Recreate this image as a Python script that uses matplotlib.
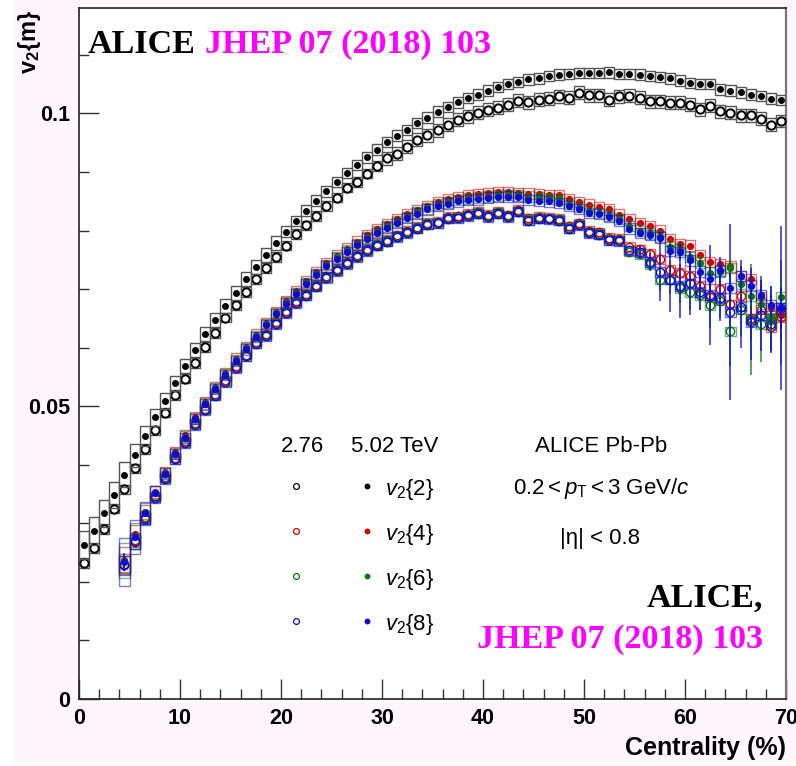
import matplotlib
matplotlib.use('Agg')
import matplotlib.pyplot as plt
import numpy as np
from matplotlib.ticker import MultipleLocator, FixedLocator, FuncFormatter
from matplotlib.patches import Rectangle

plt.rcParams['font.family'] = ['Liberation Sans', 'DejaVu Sans']
plt.rcParams['mathtext.fontset'] = 'custom'
plt.rcParams['mathtext.rm'] = 'Liberation Sans'
plt.rcParams['mathtext.it'] = 'Liberation Sans:italic'
plt.rcParams['mathtext.bf'] = 'Liberation Sans:bold'

# centrality bin centres (1% bins)
cent = np.arange(0.5, 70.0, 1.0)      # v2{2}
cent_m = np.arange(4.5, 70.0, 1.0)    # v2{4}, v2{6}, v2{8}

# v2{2}, 5.02 TeV (filled) and 2.76 TeV (open)
v22_502 = [0.0263, 0.0287, 0.0317, 0.0349, 0.0383, 0.0416, 0.0449, 0.0481, 0.0509, 0.0539,
           0.0568, 0.0596, 0.0623, 0.0648, 0.0671, 0.0694, 0.0717, 0.0738, 0.0759, 0.0779,
           0.0798, 0.0816, 0.0834, 0.0851, 0.0867, 0.0883, 0.0898, 0.0912, 0.0925, 0.0938,
           0.0951, 0.0962, 0.0972, 0.0984, 0.0993, 0.1003, 0.1011, 0.1019, 0.1026, 0.1032,
           0.1039, 0.1045, 0.1050, 0.1054, 0.1058, 0.1060, 0.1064, 0.1066, 0.1067, 0.1069,
           0.1069, 0.1069, 0.1070, 0.1067, 0.1067, 0.1066, 0.1064, 0.1062, 0.1060, 0.1056,
           0.1052, 0.1050, 0.1050, 0.1041, 0.1039, 0.1036, 0.1032, 0.1030, 0.1025, 0.1023]
v22_276 = [0.0232, 0.0258, 0.0290, 0.0325, 0.0358, 0.0394, 0.0427, 0.0459, 0.0489, 0.0519,
           0.0547, 0.0574, 0.0601, 0.0625, 0.0651, 0.0672, 0.0695, 0.0717, 0.0736, 0.0755,
           0.0774, 0.0794, 0.0809, 0.0825, 0.0842, 0.0856, 0.0873, 0.0883, 0.0897, 0.0910,
           0.0923, 0.0931, 0.0943, 0.0955, 0.0963, 0.0971, 0.0981, 0.0989, 0.0995, 0.1001,
           0.1006, 0.1010, 0.1015, 0.1022, 0.1019, 0.1023, 0.1025, 0.1029, 0.1027, 0.1035,
           0.1031, 0.1031, 0.1023, 0.1029, 0.1030, 0.1027, 0.1021, 0.1021, 0.1018, 0.1018,
           0.1015, 0.1007, 0.1013, 0.1004, 0.1001, 0.0997, 0.0997, 0.0991, 0.0981, 0.0987]
sys_v22_502 = [0.0024, 0.0024, 0.0023, 0.0022, 0.0021, 0.0019, 0.0017, 0.0015, 0.0014, 0.0013] \
    + [0.0012] * 10 + [0.0009] * 50
sys_v22_276 = [0.0008] * 30 + [0.0011] * 40

# multi-particle cumulants, 5.02 TeV
v24_502 = [0.0238, 0.0281, 0.0320, 0.0354, 0.0388, 0.0421, 0.0450, 0.0481, 0.0507, 0.0533,
           0.0557, 0.0581, 0.0601, 0.0622, 0.0642, 0.0661, 0.0679, 0.0696, 0.0713, 0.0729,
           0.0744, 0.0757, 0.0769, 0.0781, 0.0792, 0.0802, 0.0811, 0.0820, 0.0828, 0.0835,
           0.0842, 0.0848, 0.0853, 0.0857, 0.0860, 0.0862, 0.0864, 0.0866, 0.0866, 0.0864,
           0.0863, 0.0862, 0.0861, 0.0860, 0.0854, 0.0849, 0.0844, 0.0840, 0.0836, 0.0827,
           0.0819, 0.0813, 0.0807, 0.0800, 0.0785, 0.0777, 0.0774, 0.0758, 0.0746, 0.0742,
           0.0739, 0.0722, 0.0717, 0.0686, 0.0667, 0.0656]
v26_502 = [0.0236, 0.0279, 0.0319, 0.0352, 0.0386, 0.0419, 0.0448, 0.0479, 0.0505, 0.0531,
           0.0555, 0.0579, 0.0599, 0.0620, 0.0640, 0.0659, 0.0677, 0.0693, 0.0710, 0.0726,
           0.0741, 0.0754, 0.0766, 0.0777, 0.0788, 0.0798, 0.0807, 0.0815, 0.0823, 0.0831,
           0.0838, 0.0844, 0.0848, 0.0852, 0.0855, 0.0856, 0.0858, 0.0860, 0.0861, 0.0860,
           0.0858, 0.0857, 0.0855, 0.0853, 0.0846, 0.0841, 0.0834, 0.0830, 0.0826, 0.0820,
           0.0808, 0.0800, 0.0795, 0.0790, 0.0772, 0.0768, 0.0755, 0.0745, 0.0728, 0.0730,
           0.0736, 0.0709, 0.0689, 0.0675, 0.0650, 0.0686]
v28_502 = [0.0234, 0.0277, 0.0317, 0.0351, 0.0385, 0.0418, 0.0446, 0.0478, 0.0503, 0.0529,
           0.0553, 0.0577, 0.0597, 0.0618, 0.0638, 0.0657, 0.0675, 0.0691, 0.0708, 0.0724,
           0.0739, 0.0752, 0.0763, 0.0775, 0.0786, 0.0796, 0.0805, 0.0813, 0.0821, 0.0829,
           0.0836, 0.0842, 0.0846, 0.0850, 0.0852, 0.0853, 0.0856, 0.0857, 0.0858, 0.0857,
           0.0852, 0.0851, 0.0850, 0.0847, 0.0842, 0.0837, 0.0830, 0.0828, 0.0823, 0.0817,
           0.0803, 0.0796, 0.0792, 0.0788, 0.0765, 0.0763, 0.0749, 0.0730, 0.0717, 0.0732,
           0.0702, 0.0722, 0.0706, 0.0690, 0.0672, 0.0667]

# multi-particle cumulants, 2.76 TeV
v24_276 = [0.0231, 0.0271, 0.0311, 0.0346, 0.0379, 0.0412, 0.0440, 0.0471, 0.0496, 0.0521,
           0.0544, 0.0568, 0.0588, 0.0610, 0.0623, 0.0643, 0.0662, 0.0679, 0.0692, 0.0707,
           0.0722, 0.0734, 0.0746, 0.0758, 0.0768, 0.0777, 0.0784, 0.0792, 0.0799, 0.0806,
           0.0813, 0.0815, 0.0823, 0.0824, 0.0828, 0.0832, 0.0827, 0.0832, 0.0826, 0.0835,
           0.0821, 0.0823, 0.0822, 0.0820, 0.0807, 0.0812, 0.0799, 0.0797, 0.0787, 0.0786,
           0.0772, 0.0768, 0.0760, 0.0751, 0.0733, 0.0728, 0.0723, 0.0705, 0.0686, 0.0700,
           0.0674, 0.0688, 0.0650, 0.0665, 0.0635, 0.0652]
v26_276 = [0.0229, 0.0269, 0.0309, 0.0344, 0.0377, 0.0410, 0.0438, 0.0469, 0.0494, 0.0519,
           0.0542, 0.0566, 0.0586, 0.0608, 0.0621, 0.0641, 0.0660, 0.0677, 0.0690, 0.0705,
           0.0720, 0.0732, 0.0744, 0.0756, 0.0766, 0.0775, 0.0782, 0.0790, 0.0797, 0.0804,
           0.0811, 0.0813, 0.0821, 0.0822, 0.0826, 0.0830, 0.0824, 0.0830, 0.0824, 0.0833,
           0.0818, 0.0821, 0.0820, 0.0818, 0.0804, 0.0810, 0.0797, 0.0794, 0.0784, 0.0783,
           0.0764, 0.0760, 0.0742, 0.0716, 0.0716, 0.0702, 0.0695, 0.0690, 0.0673, 0.0680,
           0.0628, 0.0665, 0.0648, 0.0640, 0.0650, 0.0660]
v28_276 = [0.0228, 0.0268, 0.0308, 0.0343, 0.0376, 0.0409, 0.0437, 0.0468, 0.0493, 0.0518,
           0.0541, 0.0565, 0.0585, 0.0607, 0.0620, 0.0640, 0.0659, 0.0676, 0.0689, 0.0704,
           0.0719, 0.0731, 0.0743, 0.0755, 0.0765, 0.0774, 0.0781, 0.0789, 0.0796, 0.0803,
           0.0810, 0.0812, 0.0820, 0.0821, 0.0825, 0.0829, 0.0823, 0.0829, 0.0823, 0.0832,
           0.0817, 0.0820, 0.0819, 0.0817, 0.0803, 0.0809, 0.0796, 0.0793, 0.0783, 0.0782,
           0.0766, 0.0763, 0.0746, 0.0729, 0.0716, 0.0705, 0.0710, 0.0695, 0.0690, 0.0685,
           0.0661, 0.0670, 0.0644, 0.0655, 0.0640, 0.0668]

# statistical errors
stat_v24_502 = [0.0] * 51 + [0.0003, 0.0003, 0.0004, 0.0004, 0.0005, 0.0005, 0.0006, 0.0006,
                             0.0007, 0.0007, 0.0008, 0.0008, 0.0009, 0.0009, 0.0010]
stat_v26_502 = [0.0012] + [0.0] * 50 + [0.0004, 0.0005, 0.0006, 0.0008, 0.0009, 0.0010, 0.0012,
                                        0.0013, 0.0015, 0.0016, 0.0018, 0.0020, 0.0022, 0.0024, 0.0026]
stat_v28_502 = [0.0016, 0.0008] + [0.0] * 49 + [0.0006, 0.0008, 0.0010, 0.0012, 0.0014, 0.0016, 0.0018,
                                                0.0020, 0.0022, 0.0025, 0.0027, 0.0030, 0.0032, 0.0034, 0.0036]
stat_v24_276 = [0.0] * 51 + [0.0005, 0.0008, 0.0010, 0.0015, 0.0015, 0.0020, 0.0020, 0.0025,
                             0.0025, 0.0030, 0.0030, 0.0035, 0.0035, 0.0040, 0.0040]
stat_v26_276 = [0.0] * 51 + [0.0008, 0.0010, 0.0020, 0.0025, 0.0025, 0.0030, 0.0025, 0.0040,
                             0.0030, 0.0060, 0.0045, 0.0095, 0.0065, 0.0055, 0.0090]
stat_v28_276 = [0.0010] + [0.0] * 50 + [0.0010, 0.0015, 0.0050, 0.0055, 0.0055, 0.0055, 0.0030, 0.0085,
                                        0.0040, 0.0150, 0.0070, 0.0065, 0.0060, 0.0050, 0.0140]

# systematic errors (boxes)
sys_v24_502 = [0.0021, 0.0016, 0.0012, 0.0010] + [0.0009] * 62
sys_v26_502 = [0.0030, 0.0022, 0.0015, 0.0011] + [0.0009] * 62
sys_v28_502 = [0.0041, 0.0029, 0.0020, 0.0012] + [0.0009] * 62
sys_m_276 = [0.0016, 0.0012, 0.0010] + [0.0008] * 63

RED = '#d00000'
GREEN = '#0d7a0d'
BLUE = '#0a0ad8'
MAGENTA = '#ff00ff'

W, H = 796, 766


def fx(px):
    return px / W


def fy(py):
    return 1 - py / H


def draw(ax, x, y, sys, color, filled, stat=None, box_color=None, box_alpha=1.0,
         ms=5.0, mew=1.2, z=3):
    y = np.asarray(y)
    sys = np.asarray(sys)
    ax.bar(x, 2 * sys, width=1.0, bottom=y - sys, fill=False,
           edgecolor=box_color or color, linewidth=1.0, alpha=box_alpha, zorder=z)
    if stat is not None:
        stat = np.asarray(stat)
        m = stat > 0
        ax.errorbar(np.asarray(x)[m], y[m], yerr=stat[m], fmt='none', ecolor=color,
                    elinewidth=1.3, alpha=0.75, zorder=z + 0.2)
    if filled:
        ax.plot(x, y, 'o', ms=ms, mfc=color, mec=color, mew=0, ls='none', zorder=z + 0.5)
    else:
        ax.plot(x, y, 'o', ms=ms, mfc='none', mec=color, mew=mew, ls='none', zorder=z + 0.5)


fig = plt.figure(figsize=(W / 100, H / 100), dpi=100, facecolor='#fdf6fd')
fig.patches.append(Rectangle((0, 0), fx(13), 1, transform=fig.transFigure,
                             facecolor='white', edgecolor='none', zorder=-5))
fig.patches.append(Rectangle((0, 0), 1, 4 / H, transform=fig.transFigure,
                             facecolor='white', edgecolor='none', zorder=-5))

ax = fig.add_axes([fx(79), fy(699), (786 - 79) / W, (699 - 8) / H])
ax.set_facecolor('white')
ax.set_xlim(0, 70)
ax.set_ylim(0, 0.118)

# v2{2}
draw(ax, cent, v22_276, sys_v22_276, 'black', False, box_color='#555555', ms=6.0, mew=1.4, z=3)
draw(ax, cent, v22_502, sys_v22_502, 'black', True, box_color='#555555', ms=5.0, z=4)

# 2.76 TeV cumulants
draw(ax, cent_m, v24_276, sys_m_276, RED, False, stat=stat_v24_276, box_alpha=0.6, ms=6.0, mew=1.0, z=5)
draw(ax, cent_m, v26_276, sys_m_276, GREEN, False, stat=stat_v26_276, box_alpha=0.6, ms=6.0, mew=1.0, z=6)
draw(ax, cent_m, v28_276, sys_m_276, BLUE, False, stat=stat_v28_276, box_alpha=0.6, ms=6.0, mew=1.0, z=7)
# 5.02 TeV cumulants
draw(ax, cent_m, v24_502, sys_v24_502, RED, True, stat=stat_v24_502, box_alpha=0.55, ms=5.2, z=8)
draw(ax, cent_m, v26_502, sys_v26_502, GREEN, True, stat=stat_v26_502, box_alpha=0.55, ms=5.2, z=9)
draw(ax, cent_m, v28_502, sys_v28_502, BLUE, True, stat=stat_v28_502, box_alpha=0.55, ms=5.2, z=10)

# axes style
for side in ['top', 'bottom', 'left', 'right']:
    ax.spines[side].set_linewidth(1.2)
    ax.spines[side].set_color('#222222')
ax.spines['right'].set_color('#777777')
ax.spines['right'].set_linewidth(1.6)

ax.xaxis.set_major_locator(MultipleLocator(10))
ax.xaxis.set_minor_locator(MultipleLocator(2))
ax.yaxis.set_major_locator(FixedLocator([0, 0.05, 0.1]))
ax.yaxis.set_minor_locator(MultipleLocator(0.01))
ax.yaxis.set_major_formatter(FuncFormatter(lambda v, p: '0' if v == 0 else f'{v:g}'))
ax.tick_params(which='both', direction='in', top=False, right=False, color='#333333', width=1.0)
ax.tick_params(which='major', length=14.5, labelsize=15.5, pad=6.5)
ax.tick_params(which='minor', length=7.5)
plt.setp(ax.get_xticklabels() + ax.get_yticklabels(), fontweight='bold')

fig.text(fx(786), fy(755), 'Centrality (%)', ha='right', va='baseline',
         fontsize=18, fontweight='bold')
fig.text(fx(30), fy(42), r'$\mathbf{v_{2}\{m\}}$', rotation=90, ha='center', va='center',
         fontsize=17)

# publication tags
serif = dict(fontfamily='Liberation Serif', fontweight='bold', fontsize=24.5, va='baseline')
fig.text(fx(88), fy(53), 'ALICE', color='black', ha='left', **serif)
fig.text(fx(205), fy(53), 'JHEP 07 (2018) 103', color=MAGENTA, ha='left', **serif)
fig.text(fx(763), fy(607), 'ALICE,', color='black', ha='right', **serif)
fig.text(fx(763), fy(648), 'JHEP 07 (2018) 103', color=MAGENTA, ha='right', **serif)

# legend block
lg = dict(fontsize=16, va='baseline')
fig.text(fx(302), fy(452), '2.76', ha='center', **lg)
fig.text(fx(351), fy(452), '5.02 TeV', ha='left', **lg)
fig.text(fx(601), fy(452), 'ALICE Pb-Pb', ha='center', **lg)
fig.text(fx(601), fy(494), r'$0.2 < p_{\mathrm{T}} < 3\ \mathrm{GeV}/c$', ha='center', **lg)
fig.text(fx(600), fy(544), '|η| < 0.8', ha='center', **lg)

leg_colors = ['black', RED, GREEN, BLUE]
leg_labels = [r'$v_{2}\{2\}$', r'$v_{2}\{4\}$', r'$v_{2}\{6\}$', r'$v_{2}\{8\}$']
leg_rows = [486, 531, 576, 621]
for c, lab, py in zip(leg_colors, leg_labels, leg_rows):
    ax.plot([fx(296)], [fy(py)], 'o', ms=4.2, mfc='none', mec=c, mew=0.9,
            transform=fig.transFigure, clip_on=False, zorder=20)
    ax.plot([fx(367)], [fy(py)], 'o', ms=4.2, mfc=c, mec=c, mew=0,
            transform=fig.transFigure, clip_on=False, zorder=20)
    fig.text(fx(385), fy(py + 9), lab, ha='left', **lg)

fig.savefig('out.png', dpi=100, facecolor=fig.get_facecolor())
